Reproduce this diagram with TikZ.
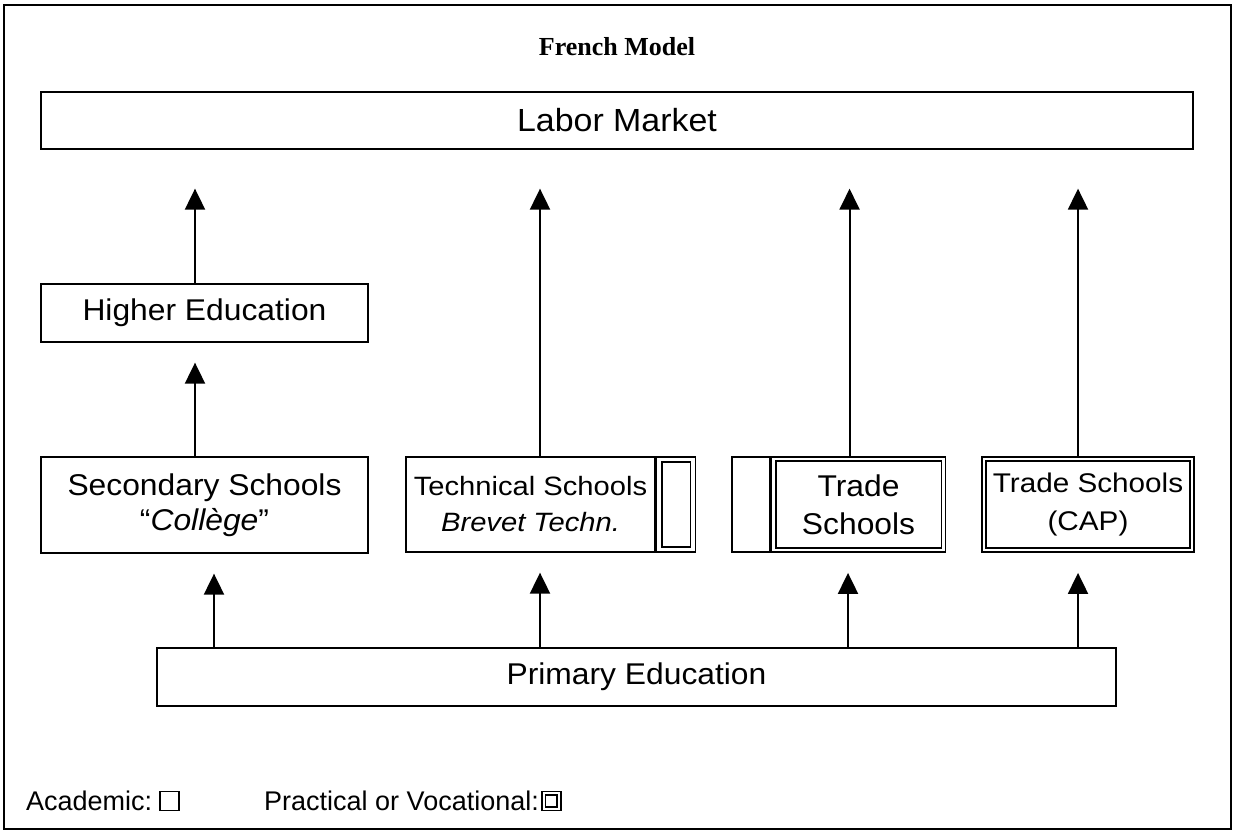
\documentclass[tikz,border=0pt]{standalone}
\usepackage{fontspec}
\setmainfont{Liberation Sans}
\newfontfamily\titlefont{Liberation Serif}
\newfontfamily\widesans{Liberation Sans}[FakeStretch=1.06]
\newfontfamily\widersans{Liberation Sans}[FakeStretch=1.10]
\usetikzlibrary{arrows.meta}
\begin{document}
\begin{tikzpicture}[x=1pt,y=-1pt,
  box/.style={draw,line width=1.3pt,inner sep=0pt,align=center,font=\widesans\fontsize{30}{37}\selectfont},
  sbox/.style={box,font=\widersans\fontsize{26.5}{38}\selectfont},
  dbl/.style={draw,line width=1.8pt,inner sep=0pt,align=center},
  arr/.style={line width=2pt,-{Triangle[length=21pt,width=20pt]}},
  inner/.style={line width=1.8pt},
  legtext/.style={anchor=west,inner sep=0pt,font=\fontsize{27}{30}\selectfont}
]
\useasboundingbox (0,0) rectangle (1233,831);
\draw[line width=1.5pt] (4,5) rectangle (1231,829);
\node[font=\titlefont\bfseries\fontsize{26}{30}\selectfont] (title) at (617,47) {French Model};
% Labor market
\node[box,minimum width=1152,minimum height=57,font=\widesans\fontsize{32}{37}\selectfont] (lm) at (617,120.5) {Labor Market};
% Higher education
\node[box,minimum width=327,minimum height=58] (he) at (204.5,313) {Higher Education};
% Secondary
\node[box,minimum width=327,minimum height=96] (ss) at (204.5,505) {Secondary Schools\\[-2pt]“\textit{Collège}”};
% Technical
\node[sbox,minimum width=249,minimum height=95] (ts) at (530.5,504.5) {Technical Schools\\[-2pt]\textit{Brevet Techn.}};
\node[dbl,minimum width=39,minimum height=95,anchor=west] (tsd) at (ts.east) {};
\draw[inner] ([shift={(6,6)}]tsd.north west) rectangle ([shift={(-6,-6)}]tsd.south east);
% Trade schools middle
\node[box,minimum width=38,minimum height=95] (trl) at (751,504.5) {};
\node[dbl,minimum width=174,minimum height=95,anchor=west,font=\widesans\fontsize{30}{38}\selectfont] (tr) at (trl.east) {Trade\\Schools};
\draw[inner] ([shift={(5,5)}]tr.north west) rectangle ([shift={(-5,-5)}]tr.south east);
% Trade schools CAP
\node[dbl,minimum width=212,minimum height=95,font=\widersans\fontsize{27}{38}\selectfont] (cap) at (1088,504.5) {Trade Schools\\(CAP)};
\draw[inner] ([shift={(5,5)}]cap.north west) rectangle ([shift={(-5,-5)}]cap.south east);
% Primary
\node[box,minimum width=959,minimum height=58] (pe) at (636.5,677) {Primary Education};
% Arrows up to labor market
\draw[arr,shorten >=39pt] ([xshift=-9.5]he.north) -- ([xshift=-9.5]he.north |- lm.south);
\draw[arr,shorten >=20pt] ([xshift=-9.5]ss.north) -- ([xshift=-9.5]ss.north |- he.south);
\draw[arr,shorten >=39pt] ([xshift=9.5]ts.north) -- ([xshift=9.5]ts.north |- lm.south);
\draw[arr,shorten >=39pt] ([xshift=-9]tr.north) -- ([xshift=-9]tr.north |- lm.south);
\draw[arr,shorten >=39pt] ([xshift=-10]cap.north) -- ([xshift=-10]cap.north |- lm.south);
% Arrows from primary
\coordinate (p1) at (214,648);
\coordinate (p2) at (540,648);
\coordinate (p3) at (848,648);
\coordinate (p4) at (1078,648);
\draw[arr,shorten >=20pt] (p1) -- (p1 |- ss.south);
\draw[arr,shorten >=20pt] (p2) -- (p2 |- ts.south);
\draw[arr,shorten >=20pt] (p3) -- (p3 |- tr.south);
\draw[arr,shorten >=20pt] (p4) -- (p4 |- cap.south);
% Legend
\node[legtext] (lga) at (26,801) {Academic:};
\node[draw,line width=1.2pt,minimum width=19,minimum height=19,inner sep=0pt,anchor=west] (lgab) at ([xshift=7]lga.east) {};
\node[legtext] (lgp) at (264,801) {Practical or Vocational:};
\node[draw,line width=1.8pt,minimum width=19,minimum height=19,inner sep=0pt,anchor=west] (lgpb) at ([xshift=2]lgp.east) {};
\draw[line width=1.8pt] ([shift={(4.5,4.5)}]lgpb.north west) rectangle ([shift={(-4.5,-4.5)}]lgpb.south east);
\end{tikzpicture}
\end{document}
